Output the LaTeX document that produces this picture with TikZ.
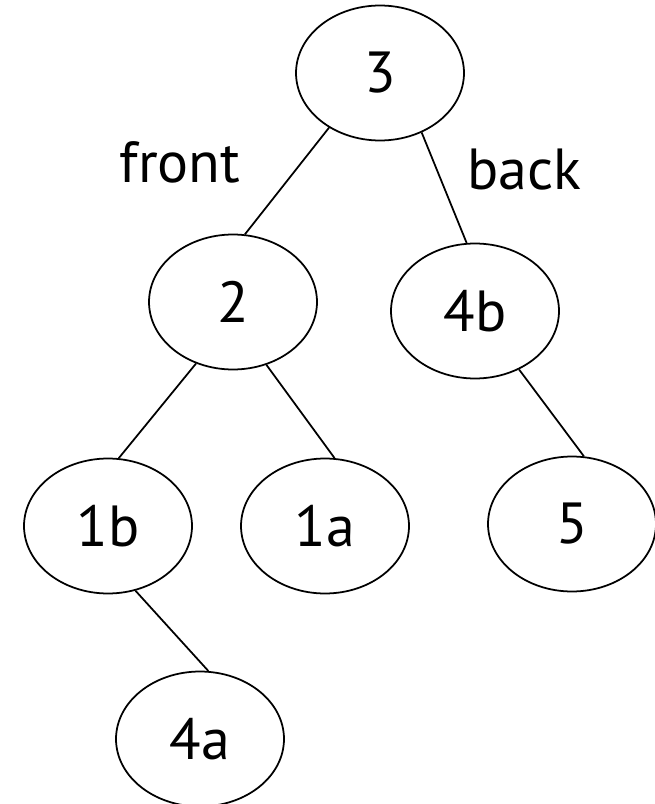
\documentclass[tikz,border=0pt]{standalone}
\usepackage{fontspec}
\setmainfont{PT Sans}
\usetikzlibrary{shapes.geometric}

\begin{document}
\begin{tikzpicture}[x=0.02cm,y=-0.02cm,
  key/.style={ellipse,draw,line width=1pt,inner sep=0pt,
    minimum width=3.36cm,minimum height=2.7cm,font=\fontsize{33}{38}\selectfont},
  lab/.style={anchor=base,font=\fontsize{33}{38}\selectfont}]
  \useasboundingbox (0,0) rectangle (655,804);
  % nodes of the tree
  \node[key] (n3)  at (380,73)  {3};
  \node[key] (n2)  at (233,302) {2};
  \node[key] (n4b) at (475,311) {4b};
  \node[key] (n1b) at (108,526) {1b};
  \node[key] (n1a) at (325,526) {1a};
  \node[key] (n5)  at (572,524) {5};
  \node[key] (n4a) at (200,739) {4a};
  \node[lab] (front) at (180,183) {front};
  \node[lab] (back)  at (524,190) {back};
  % edges
  \draw[line width=1pt] (n3.227) -- (n2.80);
  \draw[line width=1pt] (n3.305) -- (n4b.97);
  \draw[line width=1pt] (n2.239) -- (n1b.81);
  \draw[line width=1pt] (n2.298) -- (n1a.82);
  \draw[line width=1pt] (n4b.307) -- (n5.80);
  \draw[line width=1pt] (n1b.293) -- (n4a.83);
\end{tikzpicture}
\end{document}
